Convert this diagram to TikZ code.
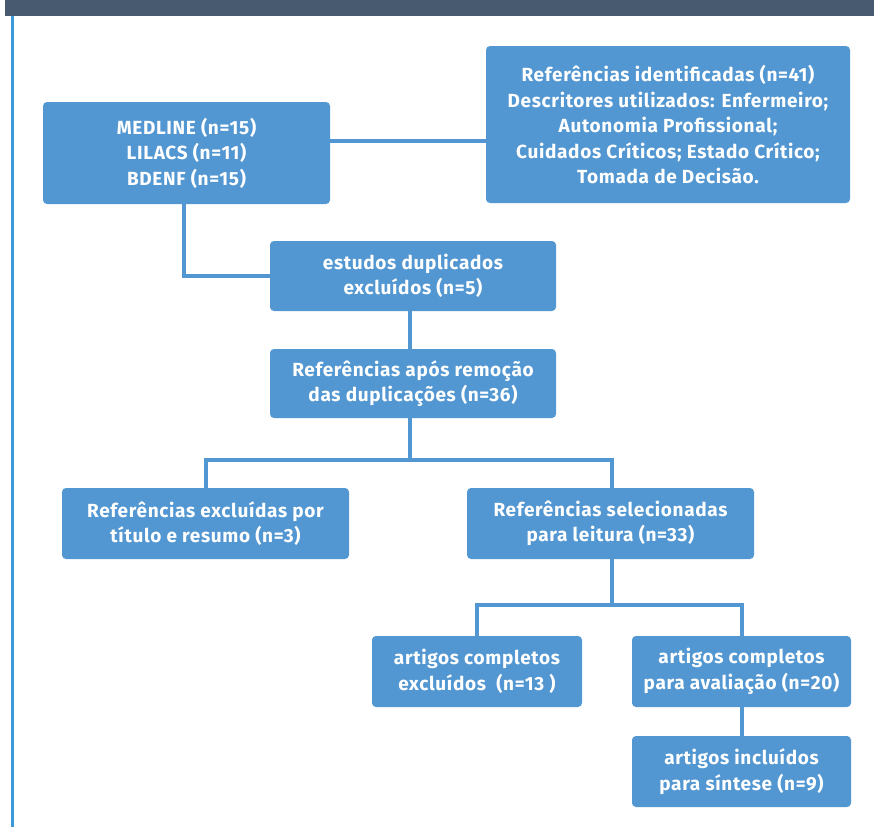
\documentclass[tikz,border=0pt]{standalone}
\usepackage{fontspec}
\setmainfont{Fira Sans}[LetterSpace=3.5]
\definecolor{boxblue}{HTML}{5297D1}
\definecolor{barslate}{HTML}{475A70}
\definecolor{sideblue}{HTML}{3A9AD9}
\tikzset{
stagebox/.style={rectangle,rounded corners=4pt,fill=boxblue,text=white,align=center,font=\fontsize{19}{25.5}\selectfont\bfseries,inner sep=0pt}
}
\tikzset{
link/.style={draw=boxblue,line width=4pt}
}

\begin{document}
\begin{tikzpicture}[x=1pt,y=-1pt]
\useasboundingbox (0,0) rectangle (874,827);
\fill[barslate] (5,0) rectangle (874,16);
\draw[sideblue,line width=3pt] (12,16) -- (12,827);

\node[stagebox,minimum width=287pt,minimum height=102pt] (med) at (186.5,153) {MEDLINE (n=15)\\LILACS (n=11)\\BDENF (n=15)};
\node[stagebox,minimum width=364pt,minimum height=157pt] (ref) at (668,124.5) {Referências identificadas (n=41)\\Descritores utilizados: Enfermeiro;\\Autonomia Profissional;\\Cuidados Críticos; Estado Crítico;\\Tomada de Decisão.};
\node[stagebox,minimum width=286pt,minimum height=70pt] (dup) at (413,276) {estudos duplicados\\excluídos (n=5)};
\node[stagebox,minimum width=286pt,minimum height=69pt] (apos) at (413,383.5) {Referências após remoção\\das duplicações (n=36)};
\node[stagebox,minimum width=287pt,minimum height=71pt] (excl) at (205.5,523.5) {Referências excluídas por\\título e resumo (n=3)};
\node[stagebox,minimum width=287pt,minimum height=71pt] (sel) at (610.5,523.5) {Referências selecionadas\\para leitura (n=33)};
\node[stagebox,minimum width=210pt,minimum height=71pt] (artex) at (477,671.5) {artigos completos\\excluídos~~(n=13 )};
\node[stagebox,minimum width=219pt,minimum height=71pt] (artav) at (741.5,671.5) {artigos completos\\para avaliação (n=20)};
\node[stagebox,minimum width=219pt,minimum height=71pt] (artin) at (741.5,771.5) {artigos incluídos\\para síntese (n=9)};

%------------------------------------------------------------------------------------------------------------%
\coordinate (hl) at (0,141);
\coordinate (j1) at (0,460);
\coordinate (j2) at (0,605);
\draw[link] (med.east |- hl) -- (ref.west |- hl);
\draw[link] ([xshift=-3pt]med.south) |- (dup.west);
\draw[link] ([xshift=-3pt]dup.south) -- ([xshift=-3pt]apos.north);
\draw[link] ([xshift=-3pt]apos.south) -- ([xshift=-3pt]apos.south |- j1);
\draw[link] (excl.north) -- (excl.north |- j1) -- ([xshift=1.5pt]sel.north |- j1) -- ([xshift=1.5pt]sel.north);
\draw[link] ([xshift=1.5pt]sel.south) -- ([xshift=1.5pt]sel.south |- j2);
\draw[link] (artex.north) -- (artex.north |- j2) -- (artav.north |- j2) -- (artav.north);
\draw[link] (artav.south) -- (artin.north);

\end{tikzpicture}
\end{document}
